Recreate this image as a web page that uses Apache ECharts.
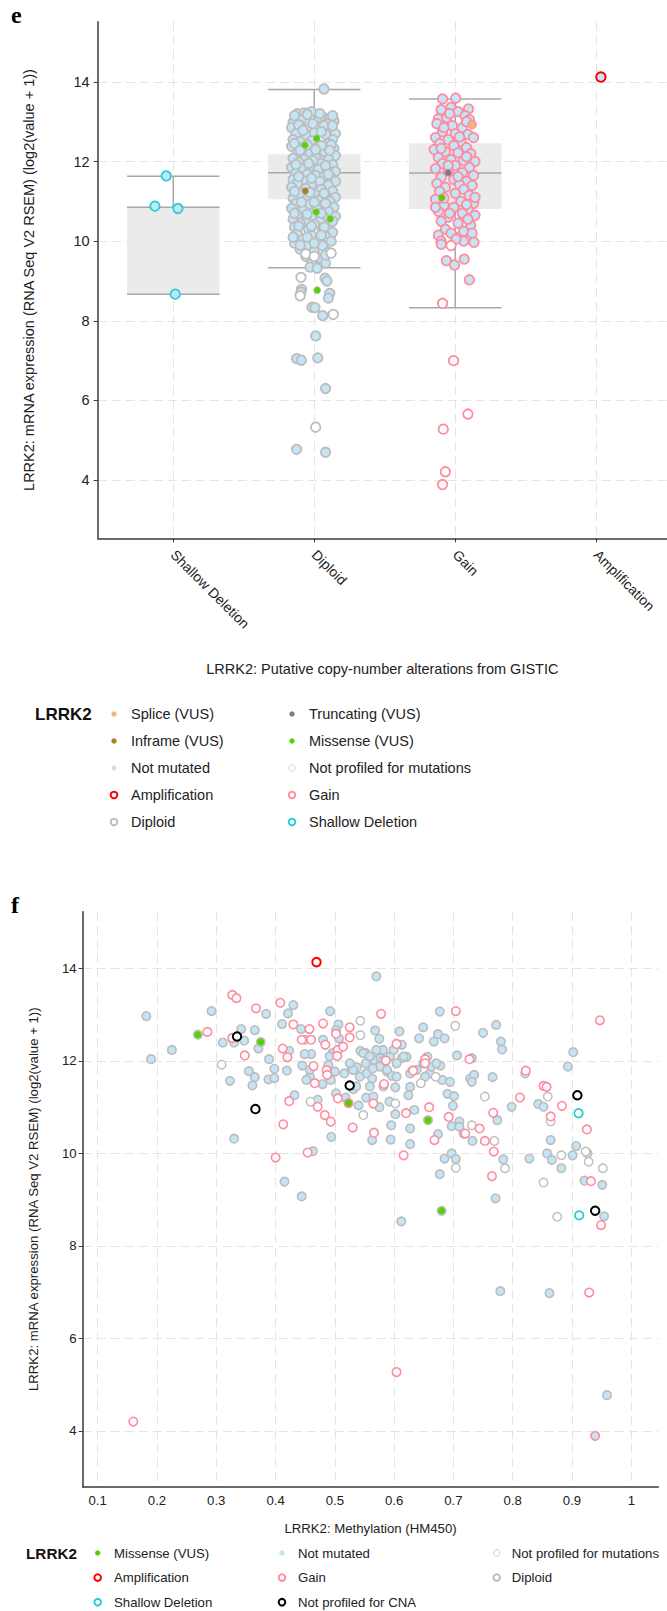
<!DOCTYPE html>
<html><head><meta charset="utf-8">
<script src="https://cdn.jsdelivr.net/npm/echarts@6.0.0/dist/echarts.min.js"></script>
<style>html,body{margin:0;padding:0;background:#fff}#c{width:667px;height:1611px}</style>
</head><body><div id="c"></div>
<script>
// ---------------- DATA ----------------
const eCategories = ['Shallow Deletion', 'Diploid', 'Gain', 'Amplification'];
const eCatTicks = [0, 1, 2, 3];
const eYTicks = [4, 6, 8, 10, 12, 14];
const fXTicks = [0.1, 0.2, 0.3, 0.4, 0.5, 0.6, 0.7, 0.8, 0.9, 1];
const fYTicks = [4, 6, 8, 10, 12, 14];

// box stats: [category, min, q1, median, q3, max]
const eBoxStats = [
  [0, 8.67, 8.67, 10.85, 10.85, 11.63],
  [1, 9.33, 11.05, 11.72, 12.18, 13.81],
  [2, 8.33, 10.81, 11.71, 12.46, 13.57]
];

// panel e points: [category index + jitter, expression]
const eShallowNotMut = [[-0.05, 11.64], [-0.13, 10.88], [0.033, 10.82], [0.014, 8.67]];
const eAmpNotMut = [[3.033, 14.12]];
const eDiploidNotMut = [
  [0.88,13.2],[0.93,13.22],[0.98,13.25],[1.06,13.12],[1.11,13.08],[1.14,13.02],[0.85,12.98],[0.91,13.05],[1.02,13.0],[1.09,12.95],
  [0.84,12.85],[0.9,12.9],[0.96,12.82],[1.04,12.88],[1.12,12.8],[1.15,12.7],[0.87,12.7],[0.94,12.65],[1.0,12.72],[1.08,12.68],
  [0.85,12.55],[1.13,12.55],[0.98,12.52],[1.1,12.45],[0.9,12.5],
  [0.84,12.38],[0.92,12.35],[1.03,12.38],[1.14,12.32],[0.88,12.22],[0.97,12.2],[1.07,12.25],[1.15,12.15],[0.85,12.08],[0.93,12.05],
  [1.01,12.1],[1.1,12.05],[0.89,11.98],[1.05,11.95],[1.13,11.92],[0.99,12.02],
  [0.84,11.85],[0.91,11.82],[0.97,11.88],[1.03,11.8],[1.09,11.78],[1.15,11.75],[0.87,11.7],[0.95,11.68],[1.01,11.65],[1.07,11.62],
  [1.12,11.6],[0.85,11.55],[0.92,11.52],[1.04,11.5],[1.15,11.5],
  [0.88,11.45],[0.98,11.42],[1.1,11.4],[0.84,11.35],[0.94,11.32],[1.05,11.3],[1.13,11.25],[0.9,11.2],[1.0,11.18],[1.08,11.15],
  [1.15,11.1],[0.85,11.08],[0.95,11.05],[1.03,11.02],[1.11,11.0],
  [0.87,10.95],[0.96,10.92],[1.06,10.9],[1.14,10.85],[0.84,10.82],[0.92,10.78],[1.02,10.8],[1.1,10.75],[0.88,10.65],[0.98,10.62],
  [1.07,10.6],[1.15,10.62],[0.85,10.55],[0.94,10.52],[1.04,10.5],
  [0.9,10.45],[1.0,10.42],[1.1,10.4],[0.86,10.35],[0.96,10.3],[1.06,10.28],[1.13,10.22],[0.88,10.18],[0.98,10.15],[1.08,10.12],
  [0.92,10.05],[1.03,10.02],[1.12,10.0],
  [0.86,9.95],[0.95,9.9],[1.06,9.88],[0.9,9.8],[1.0,9.75],[1.1,9.72],[0.94,9.62],[1.04,9.58],[0.98,9.45],[1.08,9.45],[0.97,9.35],[1.02,9.32],
  [0.86,13.15],[0.95,13.18],[1.04,13.2],[1.13,13.15],[0.89,12.92],[0.99,12.95],[1.07,12.9],[0.92,12.78],[1.05,12.75],[1.13,12.9],
  [0.86,12.45],[0.95,12.42],[1.05,12.4],[1.12,12.42],[0.9,12.28],[1.01,12.3],[1.11,12.28],[0.87,11.92],[0.96,11.95],[1.08,11.9],
  [0.89,11.62],[0.98,11.58],[1.1,11.68],[0.86,11.25],[0.97,11.22],[1.07,11.2],[0.91,10.98],[1.0,10.98],[1.08,10.95],[0.86,10.7],
  [0.95,10.68],[1.05,10.7],[1.13,10.5],[0.89,10.38],[0.98,10.38],[1.07,10.35],[0.85,10.1],[0.95,10.1],[1.05,10.15],[0.9,9.9],
  [1.0,9.95],[1.08,9.65],
  [1.069,13.82],[1.076,9.07],[1.09,9.0],[0.91,8.79],[0.905,8.72],[1.11,8.69],[1.1,8.57],[0.984,8.34],[1.005,8.33],[1.06,8.13],
  [1.01,7.62],[0.875,7.05],[0.908,7.01],[1.025,7.07],[1.08,6.3],[0.875,4.77],[1.08,4.7]
];
const eDiploidNoMutProf = [[0.906,9.09],[0.9,8.63],[1.135,8.16],[1.01,5.33],[1.12,9.7],[0.94,9.68],[1.0,9.62]];
const eDiploidMissense = [[0.934,12.41],[1.017,12.58],[1.014,10.73],[1.113,10.56],[1.021,8.77]];
const eDiploidInframe = [[0.936,11.26]];
const eGainNotMut = [
  [1.91,13.57],[2.003,13.59],[2.094,13.32],[1.97,13.36],[1.88,13.07],
  [1.9,13.3],[2.02,13.25],[2.07,13.15],[1.94,13.1],[2.1,13.05],[1.87,12.95],[1.98,12.9],[2.05,12.85],[1.91,12.75],[2.0,12.7],
  [2.09,12.68],[1.86,12.6],[1.95,12.55],[2.13,12.6],[2.04,12.5],[1.89,12.45],[1.99,12.4],[2.08,12.35],[1.85,12.3],[1.93,12.25],
  [2.02,12.22],[2.11,12.2],[1.88,12.1],[1.97,12.05],[2.06,12.02],[2.14,12.0],[1.91,11.95],[2.0,11.9],[2.1,11.85],[1.86,11.82],
  [1.95,11.78],[2.05,11.72],[2.13,11.65],[1.9,11.6],[1.99,11.55],[2.08,11.5],[1.87,11.45],[2.03,11.42],[2.12,11.4],[1.93,11.35],
  [2.06,11.3],[1.89,11.25],[2.0,11.2],[2.1,11.15],[1.86,11.05],[2.04,11.0],[2.13,10.95],[1.92,10.9],[1.99,10.85],[2.09,10.8],
  [1.88,10.75],[2.05,10.7],[2.14,10.65],[1.95,10.6],[1.9,10.5],[2.02,10.45],[2.11,10.4],[1.93,10.3],[2.06,10.25],[1.88,10.15],
  [2.0,10.1],[2.1,10.05],[1.9,10.0],[2.06,10.0],
  [1.96,13.2],[2.08,13.0],[1.92,12.85],[2.03,12.62],[1.9,12.33],[2.08,12.12],[1.95,11.9],[2.02,11.62],[1.92,11.08],[2.08,10.92],
  [1.96,10.7],[2.09,10.55],[1.97,10.2],[2.12,10.2],[1.86,10.85],[2.14,11.1],
  [2.1,9.03],[1.937,9.51],[2.064,9.55],[1.995,9.4],[2.133,9.97],[1.901,9.92],[2.005,10.05]
];
const eGainNoMutProf = [[1.91,8.44],[1.988,7.0],[2.09,5.66],[1.915,5.28],[1.93,4.21],[1.91,3.89],[1.97,9.89]];
const eGainMissense = [[1.905,11.09]];
const eGainSplice = [[2.12,12.93]];
const eGainTruncating = [[1.95,11.72]];

// panel f points: [methylation, expression]
const fDiploidNotMut = [
  [0.182,12.97],[0.19,12.04],[0.225,12.24],[0.292,13.08],[0.311,12.4],[0.342,12.69],[0.33,12.4],[0.347,12.44],[0.323,11.57],[0.33,10.32],
  [0.355,11.78],[0.365,12.67],[0.365,11.65],[0.361,11.47],[0.384,13.02],[0.371,12.27],[0.389,12.04],[0.388,11.6],[0.398,11.63],[0.398,11.83],
  [0.411,12.8],[0.421,13.03],[0.43,13.21],[0.415,9.39],[0.444,9.07],[0.423,12.22],[0.419,11.79],[0.432,11.26],[0.443,12.69],[0.45,12.46],
  [0.46,12.15],[0.449,12.15],[0.445,11.9],[0.458,11.66],[0.471,11.16],[0.479,11.5],[0.463,10.05],[0.492,13.08],[0.506,12.79],[0.507,12.49],
  [0.48,12.46],[0.496,12.17],[0.489,11.91],[0.5,11.77],[0.493,11.59],[0.516,11.73],[0.502,11.3],[0.494,10.36],[0.518,11.21],[0.531,11.39],
  [0.54,11.04],[0.528,11.82],[0.537,11.86],[0.543,12.22],[0.552,12.17],[0.57,13.83],[0.568,12.66],[0.575,12.48],[0.581,12.24],[0.552,11.95],
  [0.566,12.02],[0.577,12.06],[0.563,11.62],[0.553,11.21],[0.565,11.23],[0.575,11.0],[0.563,10.29],[0.588,11.77],[0.592,11.12],[0.596,11.68],
  [0.604,11.66],[0.602,11.43],[0.594,10.3],[0.595,10.61],[0.602,10.85],[0.609,12.64],[0.613,12.06],[0.621,12.09],[0.624,11.26],[0.627,11.44],
  [0.627,10.54],[0.627,10.2],[0.612,8.53],[0.631,11.79],[0.634,10.94],[0.642,12.49],[0.649,12.73],[0.656,12.09],[0.66,11.73],[0.652,11.66],
  [0.667,12.42],[0.674,12.58],[0.685,12.49],[0.677,13.07],[0.681,11.59],[0.678,11.9],[0.674,10.42],[0.677,9.55],[0.685,9.89],[0.697,10.0],
  [0.704,9.88],[0.694,11.55],[0.69,11.29],[0.701,11.24],[0.699,11.03],[0.71,10.69],[0.697,10.59],[0.71,10.58],[0.717,10.43],[0.706,12.12],
  [0.731,12.06],[0.728,11.62],[0.735,11.7],[0.731,11.55],[0.732,10.27],[0.75,12.61],[0.772,12.78],[0.78,12.42],[0.782,12.25],[0.766,11.65],
  [0.774,10.72],[0.771,9.03],[0.784,9.87],[0.798,11.01],[0.821,11.73],[0.828,9.89],[0.843,11.07],[0.852,11.01],[0.864,10.29],[0.858,10.0],
  [0.866,9.86],[0.882,9.68],[0.893,11.88],[0.902,12.19],[0.901,9.96],[0.907,10.16],[0.926,10.0],[0.921,9.41],[0.954,8.64],[0.951,9.32],
  [0.779,7.02],[0.862,6.98],[0.959,4.77],
  [0.548,12.17],[0.559,12.1],[0.57,12.24],[0.582,12.02],[0.593,12.1],[0.576,11.88],[0.588,11.81],[0.604,11.95],[0.616,12.1],[0.627,11.73],
  [0.553,11.73],[0.564,11.84],[0.542,11.66],[0.531,11.81],[0.525,11.95],[0.638,11.81],[0.649,11.95],[0.663,11.88],[0.671,11.95],[0.599,12.24],
  [0.613,12.35],[0.582,11.45],[0.559,11.45],[0.536,11.45],[0.452,11.59],[0.458,11.81],[0.491,12.1],[0.502,12.67]
];
const fGain = [
  [0.285,12.63],[0.327,13.43],[0.334,13.36],[0.327,12.5],[0.348,12.12],[0.367,13.14],[0.4,9.91],[0.408,13.26],[0.413,10.63],[0.412,12.27],
  [0.42,12.08],[0.423,11.13],[0.43,12.79],[0.444,12.46],[0.457,12.69],[0.46,12.46],[0.464,11.89],[0.466,11.52],[0.471,11.01],[0.483,10.83],
  [0.493,10.69],[0.454,10.02],[0.48,12.81],[0.502,12.59],[0.525,12.73],[0.484,12.35],[0.505,12.24],[0.514,12.31],[0.504,12.11],[0.486,11.8],
  [0.487,11.7],[0.505,11.19],[0.53,10.56],[0.525,12.51],[0.578,13.02],[0.565,11.08],[0.566,10.45],[0.586,12.01],[0.583,11.5],[0.604,12.37],
  [0.62,10.87],[0.616,9.96],[0.632,11.79],[0.652,12.04],[0.652,11.95],[0.659,11.0],[0.668,10.29],[0.692,10.79],[0.72,10.43],[0.704,13.08],
  [0.727,12.04],[0.744,10.54],[0.753,10.27],[0.767,10.88],[0.768,10.04],[0.765,9.51],[0.812,11.21],[0.822,11.79],[0.852,11.46],[0.857,11.44],
  [0.864,10.8],[0.883,11.03],[0.925,10.52],[0.932,9.4],[0.949,8.45],[0.947,12.88],[0.929,6.99],[0.604,5.27],[0.16,4.2]
];
const fGainNotMut = [[0.939,3.89]];
const fNoMutProf = [
  [0.309,11.92],[0.459,11.12],[0.548,10.83],[0.543,12.87],[0.543,12.56],[0.602,11.08],[0.645,11.52],[0.67,11.66],[0.704,9.69],[0.703,12.76],
  [0.731,10.61],[0.753,11.23],[0.769,10.27],[0.787,9.68],[0.859,11.23],[0.864,10.69],[0.882,9.96],[0.852,9.37],[0.875,8.63],[0.923,10.04],
  [0.928,9.82],[0.952,9.68]
];
const fNoCNA = [[0.335,12.53],[0.366,10.96],[0.525,11.47],[0.909,11.26],[0.939,8.76]];
const fShallow = [[0.911,10.87],[0.912,8.66]];
const fMissenseDiploid = [[0.269,12.57],[0.375,12.41],[0.657,10.72],[0.68,8.76]];
const fMissenseGain = [[0.523,11.09]];
const fAmp = [[0.469,14.14]];

const eLegendLabels = ['Splice (VUS)', 'Truncating (VUS)', 'Inframe (VUS)', 'Missense (VUS)', 'Not mutated',
  'Not profiled for mutations', 'Amplification', 'Gain', 'Diploid', 'Shallow Deletion'];
const fLegendLabels = ['Missense (VUS)', 'Not mutated', 'Not profiled for mutations', 'Amplification', 'Gain',
  'Diploid', 'Shallow Deletion', 'Not profiled for CNA'];

// ---------------- STYLE ----------------
const NM_FILL = '#c4e5f5', DIPLOID = '#bdbdbd', GAIN = '#ff8c9f', AMP = '#ff0000', SHALLOW = '#2aced4';
const MISSENSE = '#53d400', INFRAME = '#a68028', TRUNC = '#708090', SPLICE = '#f0b87b';
const FONT = '"Liberation Sans", Arial, sans-serif';
const TXT = '#222';
const GRID_LINE = { color: '#e4e4e4', width: 1, type: [9, 5] };
const AXIS_LINE = { color: '#3a3a3a', width: 1.5 };

const markerStyle = {
  'Splice (VUS)': { fill: SPLICE }, 'Truncating (VUS)': { fill: TRUNC }, 'Inframe (VUS)': { fill: INFRAME },
  'Missense (VUS)': { fill: MISSENSE }, 'Not mutated': { fill: NM_FILL },
  'Not profiled for mutations': { fill: '#fff', stroke: '#cfcfcf', lw: 1, r: 3.2 },
  'Amplification': { ring: AMP }, 'Gain': { ring: GAIN }, 'Diploid': { ring: DIPLOID },
  'Shallow Deletion': { ring: SHALLOW }, 'Not profiled for CNA': { ring: '#000' }
};

function scatter(data, xi, fill, stroke, size, bw, z) {
  return {
    type: 'scatter', xAxisIndex: xi, yAxisIndex: xi, data: data, symbol: 'circle', symbolSize: size,
    itemStyle: { color: fill, borderColor: stroke, borderWidth: bw, opacity: 1 },
    z: z, silent: true, animation: false
  };
}

const BOX_W = 0.655;
const boxSeries = {
  type: 'custom', xAxisIndex: 0, yAxisIndex: 0, data: eBoxStats, z: 1, silent: true, animation: false,
  encode: { x: 0, y: [1, 2, 3, 4, 5] },
  renderItem: function (params, api) {
    const x = api.value(0);
    const w = api.size([BOX_W, 0])[0];
    const pMin = api.coord([x, api.value(1)]);
    const pQ1 = api.coord([x, api.value(2)]);
    const pMed = api.coord([x, api.value(3)]);
    const pQ3 = api.coord([x, api.value(4)]);
    const pMax = api.coord([x, api.value(5)]);
    const cx = pMed[0], l = cx - w / 2, r = cx + w / 2;
    const ls = { stroke: '#a8a8a8', lineWidth: 1.5 };
    return {
      type: 'group', children: [
        { type: 'rect', shape: { x: l, y: pQ3[1], width: w, height: pQ1[1] - pQ3[1] }, style: { fill: '#ebebeb' } },
        { type: 'line', shape: { x1: cx, y1: pQ3[1], x2: cx, y2: pMax[1] }, style: ls },
        { type: 'line', shape: { x1: cx, y1: pQ1[1], x2: cx, y2: pMin[1] }, style: ls },
        { type: 'line', shape: { x1: l, y1: pMax[1], x2: r, y2: pMax[1] }, style: ls },
        { type: 'line', shape: { x1: l, y1: pMin[1], x2: r, y2: pMin[1] }, style: ls },
        { type: 'line', shape: { x1: l, y1: pMed[1], x2: r, y2: pMed[1] }, style: ls }
      ]
    };
  }
};

function legend(labels, cols, markerX, textX, y0, step, header, headerX, headerFont, textFont) {
  const els = [{ type: 'text', x: headerX, y: y0, style: { text: header, font: headerFont, fill: '#111', verticalAlign: 'middle', textVerticalAlign: 'middle' } }];
  labels.forEach(function (lab, i) {
    const c = i % cols, rrow = Math.floor(i / cols);
    const y = y0 + rrow * step;
    const m = markerStyle[lab];
    let shape, style;
    if (m.ring) { shape = { cx: markerX[c], cy: y, r: 3.3 }; style = { fill: '#fff', stroke: m.ring, lineWidth: 2 }; }
    else if (m.stroke) { shape = { cx: markerX[c], cy: y, r: m.r }; style = { fill: m.fill, stroke: m.stroke, lineWidth: m.lw }; }
    else { shape = { cx: markerX[c], cy: y, r: 2.7 }; style = { fill: m.fill }; }
    els.push({ type: 'circle', shape: shape, style: style });
    els.push({ type: 'text', x: textX[c], y: y, style: { text: lab, font: textFont, fill: TXT, verticalAlign: 'middle', textVerticalAlign: 'middle' } });
  });
  return els;
}

const chart = echarts.init(document.getElementById('c'), null, { renderer: 'svg' });

const option = {
  animation: false,
  backgroundColor: '#fff',
  grid: [
    { left: 97.7, top: 21.7, width: 569.3, height: 516.6 },
    { left: 82.7, top: 911.7, width: 575.6, height: 575 }
  ],
  xAxis: [
    {
      type: 'value', gridIndex: 0, min: -0.536, max: 3.502,
      name: 'LRRK2: Putative copy-number alterations from GISTIC', nameLocation: 'middle', nameGap: 123,
      nameMoveOverlap: false,
      nameTextStyle: { fontFamily: FONT, fontSize: 14.5, color: TXT },
      axisLine: { onZero: false, lineStyle: AXIS_LINE },
      axisTick: { show: true, length: 4, customValues: eCatTicks, lineStyle: { color: '#3a3a3a' } },
      axisLabel: { customValues: eCatTicks, rotate: -45, margin: 14, fontFamily: FONT, fontSize: 14, color: TXT,
        formatter: function (v) { return eCategories[Math.round(v)]; } },
      splitLine: { show: true, lineStyle: GRID_LINE }
    },
    {
      type: 'value', gridIndex: 1, min: 0.0747, max: 1.0455,
      name: 'LRRK2: Methylation (HM450)', nameLocation: 'middle', nameGap: 35, nameMoveOverlap: false,
      nameTextStyle: { fontFamily: FONT, fontSize: 13.2, color: TXT },
      axisLine: { onZero: false, lineStyle: AXIS_LINE },
      axisTick: { show: false, customValues: fXTicks },
      axisLabel: { customValues: fXTicks, margin: 7, fontFamily: FONT, fontSize: 13.2, color: TXT },
      splitLine: { show: true, lineStyle: GRID_LINE }
    }
  ],
  yAxis: [
    {
      type: 'value', gridIndex: 0, min: 2.54, max: 15.51,
      name: 'LRRK2: mRNA expression (RNA Seq V2 RSEM) (log2(value + 1))', nameLocation: 'middle', nameGap: 61,
      nameMoveOverlap: false,
      nameTextStyle: { fontFamily: FONT, fontSize: 14.5, color: TXT },
      axisLine: { show: true, onZero: false, lineStyle: AXIS_LINE },
      axisTick: { show: true, length: 4, customValues: eYTicks, lineStyle: { color: '#3a3a3a' } },
      axisLabel: { customValues: eYTicks, margin: 8, fontFamily: FONT, fontSize: 14.5, color: TXT },
      splitLine: { show: true, lineStyle: GRID_LINE }
    },
    {
      type: 'value', gridIndex: 1, min: 2.79, max: 15.23,
      name: 'LRRK2: mRNA expression (RNA Seq V2 RSEM) (log2(value + 1))', nameLocation: 'middle', nameGap: 43,
      nameMoveOverlap: false,
      nameTextStyle: { fontFamily: FONT, fontSize: 13.2, color: TXT },
      axisLine: { show: true, onZero: false, lineStyle: AXIS_LINE },
      axisTick: { show: true, length: 4, customValues: fYTicks, lineStyle: { color: '#3a3a3a' } },
      axisLabel: { customValues: fYTicks, margin: 6, fontFamily: FONT, fontSize: 13.2, color: TXT },
      splitLine: { show: true, lineStyle: GRID_LINE }
    }
  ],
  series: [
    boxSeries,
    scatter(eDiploidNotMut, 0, NM_FILL, DIPLOID, 9.5, 1.8, 2),
    scatter(eDiploidNoMutProf, 0, '#fff', DIPLOID, 9.5, 1.8, 2),
    scatter(eGainNotMut, 0, NM_FILL, GAIN, 9.5, 1.8, 2),
    scatter(eGainNoMutProf, 0, '#fff', GAIN, 9.5, 1.8, 2),
    scatter(eShallowNotMut, 0, NM_FILL, SHALLOW, 9.5, 1.8, 2),
    scatter(eAmpNotMut, 0, NM_FILL, AMP, 9.5, 2, 2),
    scatter(eDiploidMissense, 0, MISSENSE, DIPLOID, 7, 0.8, 3),
    scatter(eDiploidInframe, 0, INFRAME, DIPLOID, 7, 0.8, 3),
    scatter(eGainMissense, 0, MISSENSE, GAIN, 7, 0.8, 3),
    scatter(eGainSplice, 0, SPLICE, GAIN, 8, 1.5, 3),
    scatter(eGainTruncating, 0, TRUNC, GAIN, 7, 0.8, 3),

    scatter(fDiploidNotMut, 1, NM_FILL, DIPLOID, 8.5, 1.6, 2),
    scatter(fNoMutProf, 1, '#fff', DIPLOID, 8.5, 1.4, 2),
    scatter(fGain, 1, '#fff', GAIN, 8.5, 1.6, 2),
    scatter(fGainNotMut, 1, NM_FILL, GAIN, 8.5, 1.6, 2),
    scatter(fMissenseDiploid, 1, MISSENSE, DIPLOID, 8.5, 1.6, 3),
    scatter(fMissenseGain, 1, MISSENSE, GAIN, 8.5, 1.6, 3),
    scatter(fShallow, 1, '#fff', SHALLOW, 8.5, 1.8, 3),
    scatter(fNoCNA, 1, '#fff', '#000', 8.5, 2, 3),
    scatter(fAmp, 1, '#fff', AMP, 8.5, 2, 3)
  ],
  graphic: {
    elements: [
      { type: 'text', x: 11, y: 27, style: { text: 'e', font: 'bold 24px "Liberation Serif", serif', fill: '#000', verticalAlign: 'bottom', textVerticalAlign: 'bottom' } },
      { type: 'text', x: 11, y: 917, style: { text: 'f', font: 'bold 24px "Liberation Serif", serif', fill: '#000', verticalAlign: 'bottom', textVerticalAlign: 'bottom' } }
    ].concat(
      legend(eLegendLabels, 2, [114, 292], [131, 309], 714, 27, 'LRRK2', 35, 'bold 17px ' + FONT, '14.5px ' + FONT),
      legend(fLegendLabels, 3, [97.7, 282, 496.7], [114, 298, 511.7], 1553, 24.6, 'LRRK2', 26, 'bold 15.3px ' + FONT, '13.2px ' + FONT)
    )
  }
};
chart.setOption(option);
</script></body></html>
